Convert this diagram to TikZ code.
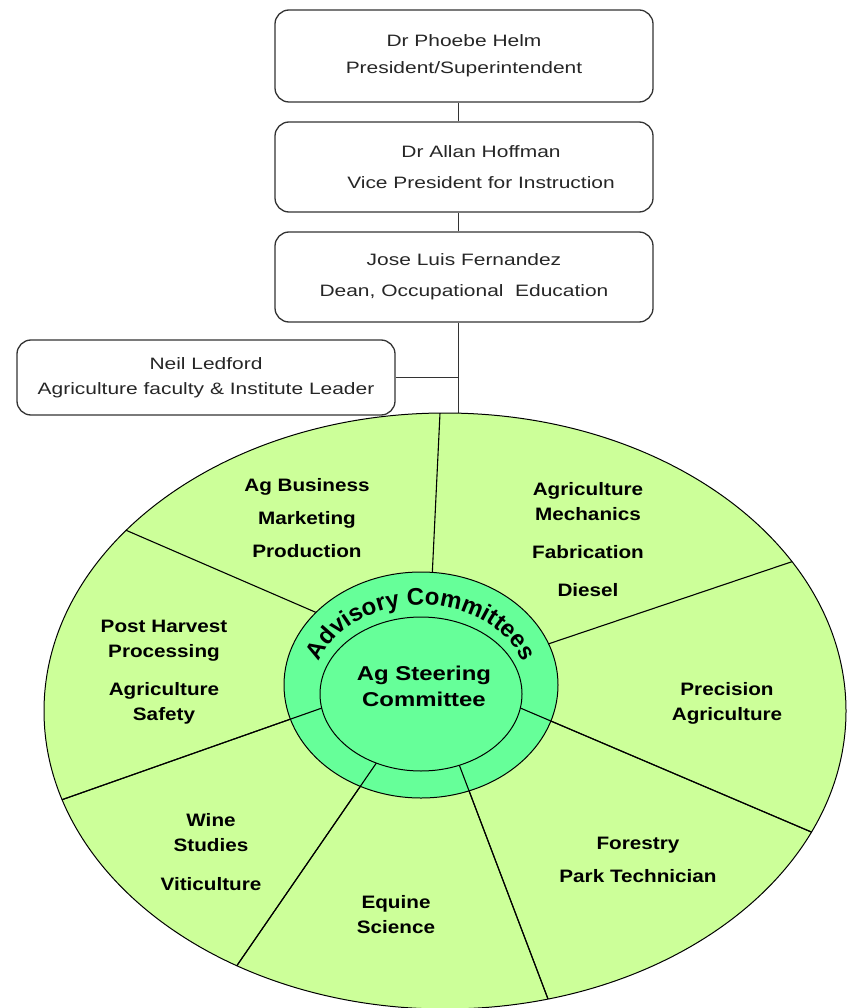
\documentclass[tikz,border=0pt]{standalone}
\usepackage{graphicx}
\usepackage{fontspec}
\setmainfont{Liberation Sans}
\usetikzlibrary{calc,decorations.text}
\definecolor{wheelgreen}{RGB}{204,255,153}
\definecolor{ringgreen}{RGB}{102,255,153}
\newcommand{\wide}[1]{\scalebox{1.27}[1]{#1}}
\tikzset{
	orgbox/.style={draw=black!80, line width=1.3pt, rounded corners=14pt, minimum width=378, align=center, text=black!85, font=\fontsize{16.5}{27}\selectfont},
	link/.style={draw=black!80, line width=1pt},
	spoke/.style={line width=1.1pt},
	sector/.style={align=center, xscale=1.15, font=\fontsize{18}{25}\selectfont\bfseries},
}
\begin{document}
\begin{tikzpicture}[x=1pt, y=-1pt, line join=round]
	\useasboundingbox (0,0) rectangle (847,1008);
	% org chart
	\node[orgbox, minimum height=92] (helm) at (464,56) {\wide{Dr Phoebe Helm}\\\wide{President/Superintendent}};
	\node[orgbox, minimum height=90] (hoffman) at (464,167) {\hspace*{34pt}\wide{Dr Allan Hoffman}\\[4pt]\hspace*{34pt}\wide{Vice President for Instruction}};
	\node[orgbox, minimum height=90] (fernandez) at (464,277) {\wide{Jose Luis Fernandez}\\[4pt]\wide{Dean, Occupational\ \ Education}};
	\node[orgbox, minimum height=75] (ledford) at (206,377.5) {\wide{Neil Ledford}\\[-2pt]\wide{Agriculture faculty \& Institute Leader}};
	\coordinate (trunk) at (458,0);
	\coordinate (wheeltop) at (458,413.5);
	\draw[link] (helm.south -| trunk) -- (hoffman.north -| trunk);
	\draw[link] (hoffman.south -| trunk) -- (fernandez.north -| trunk);
	\draw[link] (fernandez.south -| trunk) -- (wheeltop);
	\draw[link] (ledford.east) -- (ledford.east -| trunk);
	% wheel
	\filldraw[fill=wheelgreen, line width=1pt] (445,711) ellipse [x radius=401, y radius=298];
	\begin{scope}
		\clip (445,711) ellipse [x radius=401, y radius=298];
		\foreach \p/\q in {{431,600}/{440,413}, {315,612}/{137,535}, {554,642}/{791,562}, {322,708}/{64,799}, {525,710}/{816,834}, {375,765}/{238,964}, {460,767}/{548,999}}
			\draw[spoke] ($(\q)!1.1!(\p)$) -- ($(\p)!1.3!(\q)$);
		\filldraw[fill=ringgreen, line width=1pt] (421,685) ellipse [x radius=137, y radius=113];
		\foreach \p/\q in {{322,708}/{64,799}, {525,710}/{816,834}, {375,765}/{238,964}, {460,767}/{548,999}}
			\draw[spoke] ($(\q)!1.1!(\p)$) -- ($(\p)!1.3!(\q)$);
	\end{scope}
	\filldraw[fill=ringgreen, line width=1pt] (421,694) ellipse [x radius=101, y radius=77];
	\path[decorate, decoration={text along path, text align=center, text={|\fontsize{24}{24}\selectfont\bfseries|Advisory Committees}}]
		(421,690) ++(-164:108 and 85) arc [start angle=-164, end angle=-16, x radius=108, y radius=85];
	% sectors
	\node[sector, xscale=1.04, font=\fontsize{20}{26}\selectfont\bfseries] (steering) at (424,686) {Ag Steering\\Committee};
	\node[sector] (business) at (307,518) {Ag Business\\[8pt]Marketing\\[8pt]Production};
	\node[sector] (mechanics) at (588,539.5) {Agriculture\\Mechanics\\[13pt]Fabrication\\[13pt]Diesel};
	\node[sector] (harvest) at (164,672) {Post Harvest\\Processing\\[13pt]Agriculture\\Safety};
	\node[sector] (precision) at (727,703.5) {Precision\\Agriculture};
	\node[sector] (wine) at (211,852.5) {Wine\\Studies\\[14pt]Viticulture};
	\node[sector] (equine) at (396,915) {Equine\\Science};
	\node[sector] (forestry) at (638,859.5) {Forestry\\[8pt]Park Technician};
\end{tikzpicture}
\end{document}
